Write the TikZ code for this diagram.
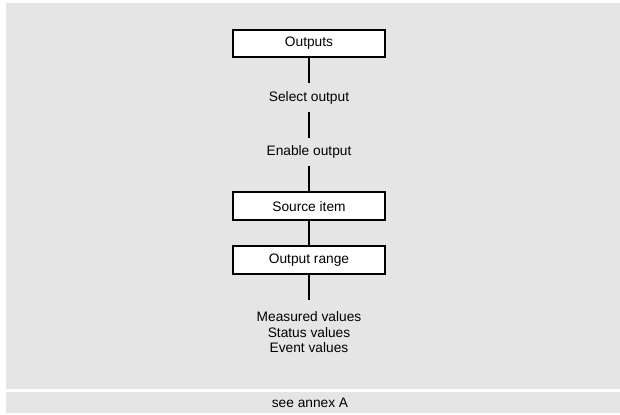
\documentclass[tikz,border=0pt]{standalone}
\usepackage{fontspec}
\setmainfont{Liberation Sans}
\usetikzlibrary{positioning}
\definecolor{panelgray}{HTML}{E5E5E5}

\begin{document}
\begin{tikzpicture}[
  x=0.75pt,y=-0.75pt,
  node distance=19.5pt,
  every node/.style={font=\fontsize{10.3}{11.6}\selectfont},
  box/.style={draw,line width=1.5pt,fill=white,minimum width=114pt,
              minimum height=20.75pt,inner sep=0pt,outer sep=0pt},
  label/.style={minimum height=21pt,inner sep=0pt},
  values/.style={align=center,inner sep=6pt},
  link/.style={line width=1.5pt}
]
\useasboundingbox (0,0) rectangle (620,414);
\fill[panelgray] (6,3) rectangle (620,389);
\fill[panelgray] (6,392) rectangle (620,413);

\node[box] (outputs) at (309,43.5) {Outputs};
\node[label,below=of outputs] (select) {Select output};
\node[label,below=of select] (enable) {Enable output};
\node[box,below=of enable] (source) {Source item};
\node[box,below=of source] (range) {Output range};
\node[values,below=of range,inner sep=0pt,yshift=-9pt] (vals)
  {Measured values\\Status values\\Event values};
\coordinate[below=19.5pt of range] (valtop);

\foreach \u/\v in {outputs/select,select/enable,enable/source,source/range}
  {\draw[link] (\u)--(\v);}
\draw[link] (range)--(valtop);

\node (annex) at (310,402.5) {see annex A};

\end{tikzpicture}
\end{document}
